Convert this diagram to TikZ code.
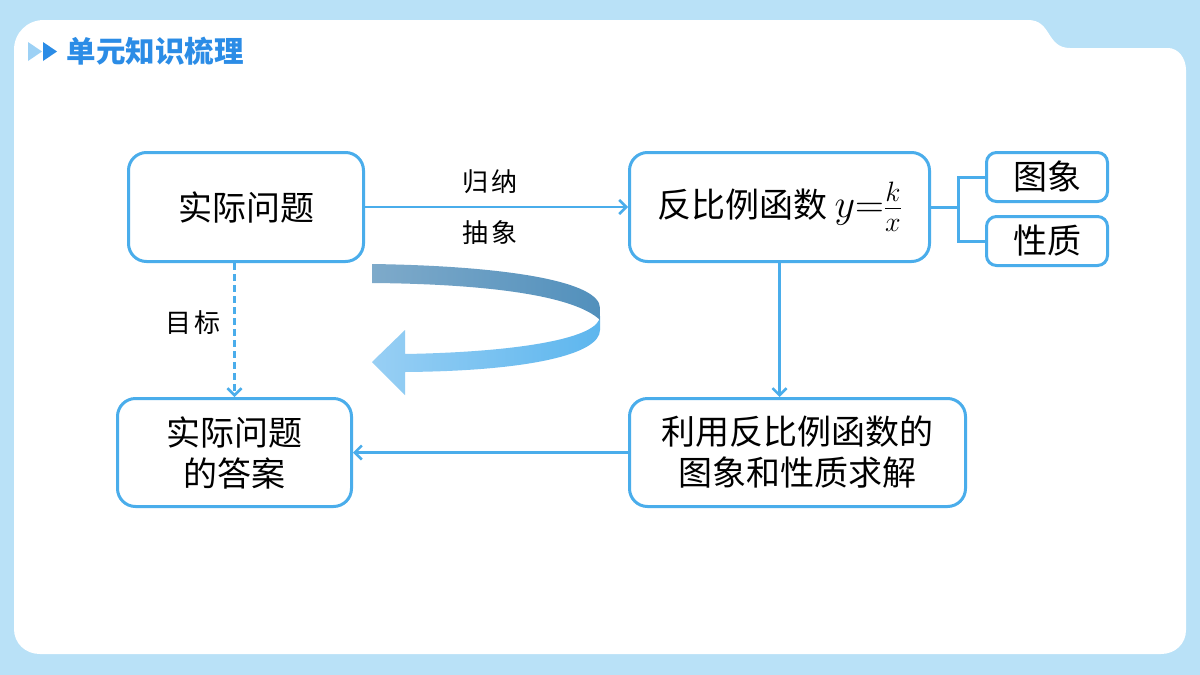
\RequirePackage{fix-cm}
\documentclass[tikz,border=0pt]{standalone}
\usepackage{fontspec}
\setmainfont{Noto Sans CJK SC}
\newfontfamily\labelfont[LetterSpace=14]{Noto Sans CJK SC}
\usepackage{xcolor}
\usepackage{tikz}
\usetikzlibrary{arrows.meta, positioning}

\definecolor{bgblue}{HTML}{B9E1F7}
\definecolor{lineblue}{HTML}{4AADEB}
\definecolor{titleblue}{HTML}{2B8CE6}
\definecolor{tipblue}{HTML}{9DD1F5}
\definecolor{ribbontop}{HTML}{7EAACA}
\definecolor{ribbondeep}{HTML}{5290BC}
\definecolor{ribbonlow}{HTML}{98CFF4}
\definecolor{ribbonmid}{HTML}{5DB6EE}

\begin{document}
\begin{tikzpicture}[
    x=1pt, y=-1pt,
    box/.style={rectangle, draw=lineblue, line width=3pt, rounded corners=18pt, fill=white, align=center, inner sep=0pt, font=\fontsize{34}{41}\selectfont},
    smallbox/.style={box, rounded corners=10pt, minimum width=121pt, minimum height=49pt},
    arrow/.style={-{Straight Barb[length=7pt,width=14pt,line width=2.5pt]}, draw=lineblue, line width=2.5pt},
    label/.style={font=\labelfont\fontsize{26}{26}\selectfont}
]
\useasboundingbox (0,0) rectangle (1200,675);
% background and panel
\fill[bgblue] (0,0) rectangle (1200,675);
\fill[white] (14,50) .. controls (14,33) and (27,20) .. (44,20) -- (1028,20)
    .. controls (1052,20) and (1046,48) .. (1070,48) -- (1168,48)
    .. controls (1178,48) and (1186,58) .. (1186,70) -- (1186,630)
    .. controls (1186,644) and (1175,654) .. (1161,654) -- (40,654)
    .. controls (25,654) and (14,643) .. (14,629) -- cycle;

% title
\fill[tipblue] (28,42) -- (42,51.5) -- (28,61) -- cycle;
\fill[titleblue] (43,42) -- (57,51.5) -- (43,61) -- cycle;
\node[anchor=west, text=titleblue, font=\bfseries\fontsize{29.5}{29.5}\selectfont] (title) at (63,51) {单元知识梳理};

% boxes
\node[box, minimum width=235pt, minimum height=109pt] (problem) at (246,207) {实际问题};
\node[box, minimum width=300pt, minimum height=109pt] (func) at (779.5,207) {反比例函数 {\fontsize{40}{40}\selectfont$y{=}\frac{k}{x}$}};
\node[smallbox] (graph) at (1047,177) {图象};
\node[smallbox] (prop) at (1047,241) {性质};
\node[box, minimum width=234pt, minimum height=108pt] (answer) at (234.5,452.5) {实际问题\\的答案};
\node[box, minimum width=336pt, minimum height=108pt] (solve) at (797.5,452.5) {利用反比例函数的\\图象和性质求解};

% connectors
\draw[arrow] (problem) -- (func);
\node[label] (induct) at (490,182) {归纳};
\node[label] (abstract) at (490,233) {抽象};
\draw[arrow] (func.south) -- (func.south |- solve.north);
\draw[arrow] (solve) -- (answer);
\draw[arrow, dash pattern=on 7pt off 4pt] (answer.north |- problem.south) -- (answer.north);
\node[label] (goal) at (193,323) {目标};
\coordinate (fork) at (958,207);
\draw[lineblue, line width=3pt] (func.east) -- (fork);
\draw[lineblue, line width=3pt] (graph.west) -| (fork) |- (prop.west);

% curved ribbon arrow
\shade[left color=ribbonlow, right color=ribbonmid]
    (600,316) .. controls (600,338) and (520,352) .. (405,354) -- (405,330)
    -- (372,362) -- (405,395) -- (405,372)
    .. controls (530,371) and (600,354) .. (600,330) -- cycle;
\shade[left color=ribbontop, right color=ribbondeep]
    (372,264) .. controls (510,266) and (600,282) .. (600,308) -- (600,320)
    .. controls (575,296) and (490,284) .. (372,283) -- cycle;
\end{tikzpicture}
\end{document}
